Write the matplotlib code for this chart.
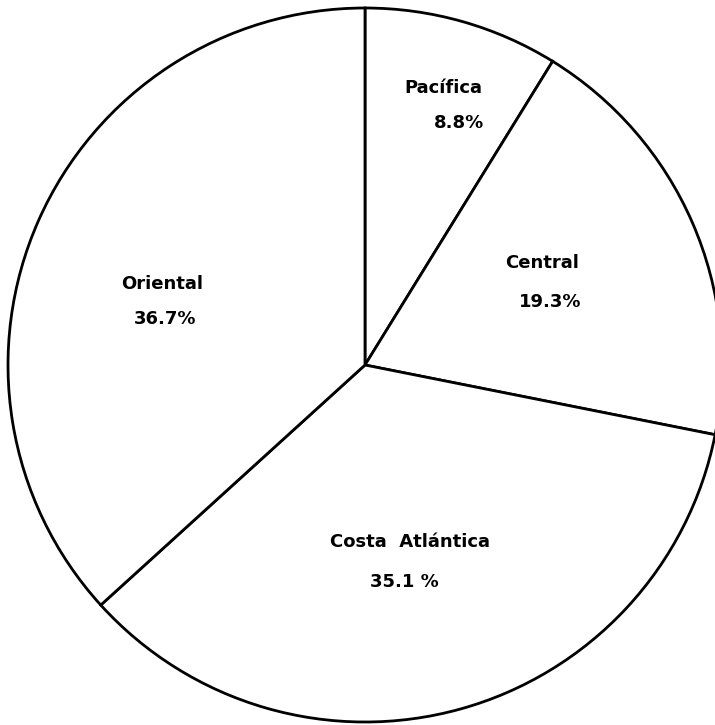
import matplotlib.pyplot as plt
import numpy as np

plt.rcParams['font.family'] = ['DejaVu Sans']

# Data
regions = ['Pacífica', 'Central', 'Costa  Atlántica', 'Oriental']
shares = [8.8, 19.3, 35.1, 36.7]
share_labels = ['8.8%', '19.3%', '35.1 %', '36.7%']

# label placement: fraction of radius, angle shift (deg), pct x-shift, line gap (px)
label_r = [0.76, 0.548, 0.566, 0.595]
label_dang = [-1, 1.5, -2.7, 6.6]
pct_dx = [15, 8, -5, 3]
line_gap = [35, 39, 40, 35]

W, H = 715, 725
cx, cy, R = 365, H - 365, 357

fig = plt.figure(figsize=(W / 100, H / 100), dpi=100)
ax = fig.add_axes([0, 0, 1, 1])

wedges, _ = ax.pie(shares, startangle=90, counterclock=False, radius=R,
                   center=(cx, cy), frame=True,
                   wedgeprops=dict(facecolor='white', edgecolor='black',
                                   linewidth=2.0))
ax.set_xlim(0, W)
ax.set_ylim(0, H)
ax.set_aspect('equal')
ax.axis('off')

for i, w in enumerate(wedges):
    mid = np.deg2rad((w.theta1 + w.theta2) / 2 + label_dang[i])
    x = cx + label_r[i] * R * np.cos(mid)
    y = cy + label_r[i] * R * np.sin(mid)
    ax.text(x, y + line_gap[i] / 2, regions[i], ha='center', va='center',
            fontsize=13, fontweight='bold')
    ax.text(x + pct_dx[i], y - line_gap[i] / 2, share_labels[i], ha='center',
            va='center', fontsize=13, fontweight='bold')

fig.savefig('out.png', dpi=100, facecolor='white')
